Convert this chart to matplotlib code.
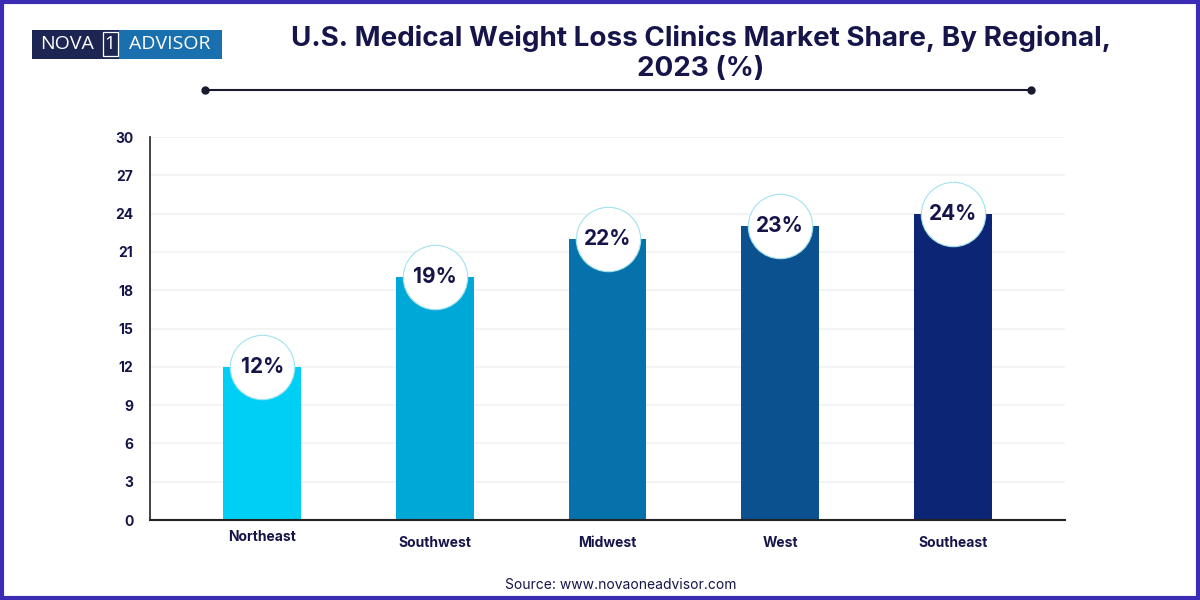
import numpy as np
import matplotlib
matplotlib.use('Agg')
import matplotlib.pyplot as plt
from matplotlib.patches import Rectangle

plt.rcParams['font.family'] = ['Inter', 'DejaVu Sans']

# 数据
regions = ['Northeast', 'Southwest', 'Midwest', 'West', 'Southeast']
shares = [12, 19, 22, 23, 24]
labels = ['12%', '19%', '22%', '23%', '24%']
yticks = [0, 3, 6, 9, 12, 15, 18, 21, 24, 27, 30]

bar_colors = ['#00cff5', '#00a8d8', '#0672ab', '#0b5190', '#0c2575']
navy = '#16154a'

fig = plt.figure(figsize=(12, 6), dpi=100)
fig.patch.set_facecolor('white')

ax = fig.add_axes([0.125, 0.1333, 0.7625, 0.6383])
x = np.arange(len(regions))
ax.bar(x, shares, width=0.45, color=bar_colors, zorder=2)
ax.set_xlim(-0.65, 4.65)
ax.set_ylim(0, 30)
ax.set_yticks(yticks)
ax.set_yticklabels([str(t) for t in yticks], fontsize=10, fontweight='bold', color=navy)
ax.tick_params(axis='y', length=0, pad=12)
ax.set_xticks([])
for t in yticks[1:]:
    ax.axhline(t, color='#f2f2f2', lw=1.2, zorder=0)
for s in ['top', 'right']:
    ax.spines[s].set_visible(False)
ax.spines['left'].set_color('#222222')
ax.spines['bottom'].set_color('#222222')
ax.spines['left'].set_linewidth(1.2)
ax.spines['bottom'].set_linewidth(1.5)

# 圆形数值标签
for i, (v, lab) in enumerate(zip(shares, labels)):
    ax.scatter(i, v, s=2150, facecolor='white', edgecolor='#9fe3ef', linewidth=0.8, zorder=3)
    ax.text(i, v, lab, ha='center', va='center', fontsize=15, fontweight='bold',
            color=navy, zorder=4)

# x 轴标签（第一个略高）
for i, r in enumerate(regions):
    dy = -0.045 if i == 0 else -0.06
    ax.text(i, dy, r, transform=ax.get_xaxis_transform(), ha='center', va='center',
            fontsize=10, fontweight='bold', color=navy)

# 标题
fig.text(0.584, 0.935, 'U.S. Medical Weight Loss Clinics Market Share, By Regional,',
         ha='center', va='center', fontsize=20, fontweight='bold', color=navy)
fig.text(0.584, 0.885, '2023 (%)', ha='center', va='center', fontsize=20,
         fontweight='bold', color=navy)
fig.add_artist(plt.Line2D([0.171, 0.859], [0.85, 0.85], color='#1a1a2e', lw=1.5))
fig.add_artist(plt.Line2D([0.171, 0.859], [0.85, 0.85], color='#1a1a2e', lw=0,
                          marker='o', markersize=5))

# Logo
logo_font = ['Open Sans', 'DejaVu Sans']
fig.add_artist(Rectangle((0.027, 0.902), 0.072, 0.048, transform=fig.transFigure,
                         facecolor='#1d2553', edgecolor='none'))
fig.add_artist(Rectangle((0.099, 0.902), 0.086, 0.048, transform=fig.transFigure,
                         facecolor='#1a70ae', edgecolor='none'))
fig.text(0.0555, 0.926, 'NOVA', ha='center', va='center', fontsize=14,
         color='white', family=logo_font)
fig.add_artist(Rectangle((0.0855, 0.906), 0.0125, 0.040, transform=fig.transFigure,
                         facecolor='none', edgecolor='white', lw=0.9))
fig.text(0.0918, 0.926, '1', ha='center', va='center', fontsize=13.5,
         color='white', family=logo_font)
fig.text(0.1417, 0.926, 'ADVISOR', ha='center', va='center', fontsize=14,
         color='white', family=logo_font)

# 来源
fig.text(0.517, 0.025, 'Source: www.novaoneadvisor.com', ha='center', va='center',
         fontsize=10, color=navy)

# 边框
fig.add_artist(Rectangle((0.0015, 0.003), 0.997, 0.994, transform=fig.transFigure,
                         facecolor='none', edgecolor='#3b2db3', lw=3))

plt.savefig('out.png', dpi=100)
plt.close()
